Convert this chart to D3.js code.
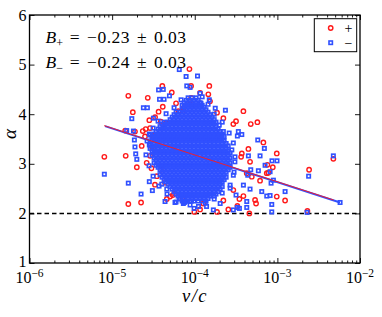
<!DOCTYPE html>
<html><head><meta charset="utf-8">
<script src="https://cdn.jsdelivr.net/npm/d3@7"></script>
<style>body{margin:0;background:#fff}svg{display:block}text{font-family:"Liberation Serif","Times New Roman",serif}</style>
</head><body><svg id="c" width="382" height="317" font-family="Liberation Serif, serif"></svg>
<script>
// ---- data ----
const xDomain = [1e-6, 1e-2];
const yDomain = [1, 6];
const xTickExps = [-6, -5, -4, -3, -2];
const yTicks = [1, 2, 3, 4, 5, 6];
const refAlpha = 2;
const seriesLabels = ["+", "\u2212"];
const fitTexts = ["\u22120.23 \u00b1 0.03", "\u22120.24 \u00b1 0.03"];
const plusFitV = [8.0e-6, 4.8e-3];
const plusFitAlpha = [3.77, 2.27];
const minusFitV = [8.2e-6, 5.74e-3];
const minusFitAlpha = [3.76, 2.22];

const plusV = [8.62e-5,4.05e-5,1.57e-5,2.70e-5,5.27e-5,1.50e-4,3.88e-4,4.10e-5,1.78e-5,3.65e-5,1.44e-5,2.35e-5,2.88e-5,3.31e-5,3.88e-5,4.54e-5,5.73e-4,4.76e-4,3.16e-4,2.93e-4,2.22e-4,1.86e-4,1.46e-4,9.03e-5,9.07e-5,8.05e-6,1.46e-5,1.99e-5,2.28e-5,2.88e-5,1.57e-5,2.24e-5,2.99e-5,3.48e-5,3.88e-5,4.37e-5,5.03e-5,5.77e-5,2.50e-5,3.16e-5,1.89e-5,2.55e-5,4.76e-3,2.42e-3,2.31e-3,1.24e-3,9.83e-4,8.80e-4,4.58e-4,5.37e-4,7.44e-4,4.46e-4,3.71e-4,3.28e-4,2.55e-4,1.16e-4,9.90e-5,7.09e-5,5.42e-5,4.59e-5,6.77e-4,7.57e-4,7.78e-4,6.17e-4,4.90e-4,4.26e-4,3.64e-4,4.67e-4,3.88e-4,5.52e-4,3.47e-4,2.22e-4,1.86e-4,1.27e-4,8.01e-5,2.93e-4,9.83e-4,7.23e-5,5.94e-5,1.16e-4,8.78e-5,1.16e-4,1.53e-4,6.35e-5,7.28e-5,2.82e-5,3.04e-5,2.62e-5,3.30e-5];
const plusAlpha = [4.91,4.57,4.37,4.33,4.44,4.57,4.06,4.15,4.04,4.05,3.67,3.66,3.72,3.94,3.85,3.82,3.84,3.80,3.86,3.80,3.92,4.03,4.40,4.57,4.33,3.14,3.16,2.93,3.36,3.16,2.19,2.22,2.91,2.75,2.88,2.62,2.34,2.40,3.55,3.56,3.65,3.70,3.10,2.88,2.05,2.26,3.21,2.93,2.00,2.27,2.81,3.30,3.21,2.15,2.08,2.08,2.03,2.29,2.37,2.29,3.43,2.98,2.82,2.66,2.74,2.81,3.14,3.04,2.35,2.20,2.29,2.26,2.03,2.20,2.37,2.47,2.34,4.06,4.22,4.22,4.21,4.43,4.26,4.06,4.12,3.88,3.34,3.02,2.58];

const minusV = [6.50e-5,7.86e-5,1.08e-4,3.65e-5,4.16e-5,3.75e-5,4.25e-5,4.94e-5,8.01e-5,8.78e-5,1.16e-4,1.50e-4,2.35e-4,2.39e-5,2.67e-5,1.77e-4,1.73e-5,3.16e-5,1.50e-5,1.81e-5,3.80e-5,2.82e-5,4.16e-5,1.19e-4,1.98e-4,2.22e-4,3.37e-4,5.79e-4,8.05e-6,1.57e-5,2.24e-5,3.07e-5,2.82e-5,1.86e-5,1.99e-5,1.93e-5,3.22e-5,2.82e-5,3.99e-5,4.59e-5,5.77e-5,6.50e-5,7.49e-5,1.89e-5,4.76e-3,2.39e-3,2.29e-3,1.24e-3,8.60e-4,9.90e-4,7.10e-4,8.55e-4,8.55e-4,8.39e-4,7.44e-4,6.96e-4,4.38e-4,4.26e-4,3.28e-4,1.68e-4,9.82e-5,7.28e-5,4.37e-5,4.46e-4,6.17e-4,5.89e-4,4.76e-4,8.16e-4,8.95e-4,6.47e-4,8.16e-4,4.67e-4,3.88e-4,4.26e-4,3.47e-4,2.93e-4,1.39e-4,1.11e-4,7.64e-5,9.15e-5,2.03e-4,3.71e-4,3.28e-4,5.74e-3,2.81e-4,3.06e-4,2.93e-4,2.68e-4,3.16e-4,
 2.65e-5,2.57e-5,2.80e-5,3.13e-5,3.70e-5,4.62e-5,5.94e-5,8.78e-5,1.34e-4,1.72e-4,2.15e-4,2.68e-4,2.99e-4,3.07e-4,2.93e-4,2.61e-4,2.15e-4,1.72e-4,1.45e-4,1.23e-4,6.83e-5,5.62e-5,4.50e-5,3.60e-5,3.13e-5,2.88e-5];
const minusAlpha = [4.90,4.76,4.77,4.49,4.50,4.30,4.30,4.37,4.57,4.54,4.42,4.29,4.08,4.13,4.13,4.12,3.91,3.92,3.67,3.66,3.65,3.60,3.72,4.22,3.78,3.65,3.65,3.48,2.79,2.61,2.39,2.46,2.64,3.48,3.09,3.20,3.23,3.38,2.59,2.49,2.22,2.29,2.22,3.34,3.16,2.75,2.02,2.44,3.06,3.06,2.97,2.18,2.03,2.61,2.35,3.31,2.77,2.12,2.12,2.07,2.10,2.20,2.24,3.16,3.16,2.86,2.88,2.84,2.67,2.44,2.36,2.49,2.57,2.24,2.10,2.07,2.14,2.14,2.24,2.25,2.20,3.59,3.56,2.22,3.28,3.04,2.77,2.51,2.37,
 3.46,3.18,2.96,2.75,2.55,2.39,2.23,2.17,2.21,2.29,2.41,2.57,2.83,3.14,3.42,3.62,3.84,4.00,4.20,4.35,4.29,4.13,4.01,3.86,3.72,3.58];

// dense core of the "−" cloud, one row of v values per alpha level
const minusCoreAlpha = [4.33,4.28,4.23,4.18,4.14,4.09,4.04,3.99,3.94,3.89,3.84,3.80,3.75,3.70,3.65,3.60,3.55,3.51,3.46,3.41,3.36,3.31,3.26,3.22,3.17,3.12,3.07,3.02,2.97,2.93,2.88,2.83,2.78,2.73,2.68,2.64,2.59,2.54,2.49,2.44,2.39,2.35,2.30,2.25];
const minusCoreV = [
 [8.31e-5,9.29e-5,1.04e-4],
 [7.86e-5,8.78e-5,9.82e-5,1.10e-4],
 [7.43e-5,8.31e-5,9.29e-5,1.04e-4,1.16e-4],
 [7.03e-5,7.86e-5,8.78e-5,9.82e-5,1.10e-4,1.23e-4],
 [7.43e-5,8.31e-5,9.29e-5,1.04e-4,1.16e-4,1.30e-4],
 [7.03e-5,7.86e-5,8.78e-5,9.82e-5,1.10e-4,1.23e-4,1.37e-4],
 [5.94e-5,6.64e-5,7.43e-5,8.31e-5,9.29e-5,1.04e-4,1.16e-4,1.30e-4,1.45e-4],
 [5.62e-5,6.28e-5,7.03e-5,7.86e-5,8.78e-5,9.82e-5,1.10e-4,1.23e-4,1.37e-4,1.53e-4],
 [5.32e-5,5.94e-5,6.64e-5,7.43e-5,8.31e-5,9.29e-5,1.04e-4,1.16e-4,1.30e-4,1.45e-4,1.62e-4],
 [5.03e-5,5.62e-5,6.28e-5,7.03e-5,7.86e-5,8.78e-5,9.82e-5,1.10e-4,1.23e-4,1.37e-4,1.53e-4,1.72e-4],
 [4.25e-5,4.75e-5,5.32e-5,5.94e-5,6.64e-5,7.43e-5,8.31e-5,9.29e-5,1.04e-4,1.16e-4,1.30e-4,1.45e-4,1.62e-4,1.81e-4],
 [4.02e-5,4.50e-5,5.03e-5,5.62e-5,6.28e-5,7.03e-5,7.86e-5,8.78e-5,9.82e-5,1.10e-4,1.23e-4,1.37e-4,1.53e-4,1.72e-4],
 [3.80e-5,4.25e-5,4.75e-5,5.32e-5,5.94e-5,6.64e-5,7.43e-5,8.31e-5,9.29e-5,1.04e-4,1.16e-4,1.30e-4,1.45e-4,1.62e-4,1.81e-4],
 [3.60e-5,4.02e-5,4.50e-5,5.03e-5,5.62e-5,6.28e-5,7.03e-5,7.86e-5,8.78e-5,9.82e-5,1.10e-4,1.23e-4,1.37e-4,1.53e-4,1.72e-4,1.92e-4],
 [3.40e-5,3.80e-5,4.25e-5,4.75e-5,5.32e-5,5.94e-5,6.64e-5,7.43e-5,8.31e-5,9.29e-5,1.04e-4,1.16e-4,1.30e-4,1.45e-4,1.62e-4,1.81e-4,2.03e-4],
 [3.22e-5,3.60e-5,4.02e-5,4.50e-5,5.03e-5,5.62e-5,6.28e-5,7.03e-5,7.86e-5,8.78e-5,9.82e-5,1.10e-4,1.23e-4,1.37e-4,1.53e-4,1.72e-4,1.92e-4,2.15e-4],
 [3.04e-5,3.40e-5,3.80e-5,4.25e-5,4.75e-5,5.32e-5,5.94e-5,6.64e-5,7.43e-5,8.31e-5,9.29e-5,1.04e-4,1.16e-4,1.30e-4,1.45e-4,1.62e-4,1.81e-4,2.03e-4,2.27e-4],
 [3.22e-5,3.60e-5,4.02e-5,4.50e-5,5.03e-5,5.62e-5,6.28e-5,7.03e-5,7.86e-5,8.78e-5,9.82e-5,1.10e-4,1.23e-4,1.37e-4,1.53e-4,1.72e-4,1.92e-4,2.15e-4],
 [3.04e-5,3.40e-5,3.80e-5,4.25e-5,4.75e-5,5.32e-5,5.94e-5,6.64e-5,7.43e-5,8.31e-5,9.29e-5,1.04e-4,1.16e-4,1.30e-4,1.45e-4,1.62e-4,1.81e-4,2.03e-4,2.27e-4],
 [2.88e-5,3.22e-5,3.60e-5,4.02e-5,4.50e-5,5.03e-5,5.62e-5,6.28e-5,7.03e-5,7.86e-5,8.78e-5,9.82e-5,1.10e-4,1.23e-4,1.37e-4,1.53e-4,1.72e-4,1.92e-4,2.15e-4,2.40e-4],
 [3.04e-5,3.40e-5,3.80e-5,4.25e-5,4.75e-5,5.32e-5,5.94e-5,6.64e-5,7.43e-5,8.31e-5,9.29e-5,1.04e-4,1.16e-4,1.30e-4,1.45e-4,1.62e-4,1.81e-4,2.03e-4,2.27e-4,2.54e-4],
 [2.88e-5,3.22e-5,3.60e-5,4.02e-5,4.50e-5,5.03e-5,5.62e-5,6.28e-5,7.03e-5,7.86e-5,8.78e-5,9.82e-5,1.10e-4,1.23e-4,1.37e-4,1.53e-4,1.72e-4,1.92e-4,2.15e-4,2.40e-4],
 [3.04e-5,3.40e-5,3.80e-5,4.25e-5,4.75e-5,5.32e-5,5.94e-5,6.64e-5,7.43e-5,8.31e-5,9.29e-5,1.04e-4,1.16e-4,1.30e-4,1.45e-4,1.62e-4,1.81e-4,2.03e-4,2.27e-4,2.54e-4],
 [3.22e-5,3.60e-5,4.02e-5,4.50e-5,5.03e-5,5.62e-5,6.28e-5,7.03e-5,7.86e-5,8.78e-5,9.82e-5,1.10e-4,1.23e-4,1.37e-4,1.53e-4,1.72e-4,1.92e-4,2.15e-4,2.40e-4,2.68e-4],
 [3.04e-5,3.40e-5,3.80e-5,4.25e-5,4.75e-5,5.32e-5,5.94e-5,6.64e-5,7.43e-5,8.31e-5,9.29e-5,1.04e-4,1.16e-4,1.30e-4,1.45e-4,1.62e-4,1.81e-4,2.03e-4,2.27e-4,2.54e-4],
 [3.22e-5,3.60e-5,4.02e-5,4.50e-5,5.03e-5,5.62e-5,6.28e-5,7.03e-5,7.86e-5,8.78e-5,9.82e-5,1.10e-4,1.23e-4,1.37e-4,1.53e-4,1.72e-4,1.92e-4,2.15e-4,2.40e-4,2.68e-4],
 [3.40e-5,3.80e-5,4.25e-5,4.75e-5,5.32e-5,5.94e-5,6.64e-5,7.43e-5,8.31e-5,9.29e-5,1.04e-4,1.16e-4,1.30e-4,1.45e-4,1.62e-4,1.81e-4,2.03e-4,2.27e-4,2.54e-4],
 [3.22e-5,3.60e-5,4.02e-5,4.50e-5,5.03e-5,5.62e-5,6.28e-5,7.03e-5,7.86e-5,8.78e-5,9.82e-5,1.10e-4,1.23e-4,1.37e-4,1.53e-4,1.72e-4,1.92e-4,2.15e-4,2.40e-4,2.68e-4],
 [3.40e-5,3.80e-5,4.25e-5,4.75e-5,5.32e-5,5.94e-5,6.64e-5,7.43e-5,8.31e-5,9.29e-5,1.04e-4,1.16e-4,1.30e-4,1.45e-4,1.62e-4,1.81e-4,2.03e-4,2.27e-4,2.54e-4],
 [3.60e-5,4.02e-5,4.50e-5,5.03e-5,5.62e-5,6.28e-5,7.03e-5,7.86e-5,8.78e-5,9.82e-5,1.10e-4,1.23e-4,1.37e-4,1.53e-4,1.72e-4,1.92e-4,2.15e-4,2.40e-4,2.68e-4],
 [3.80e-5,4.25e-5,4.75e-5,5.32e-5,5.94e-5,6.64e-5,7.43e-5,8.31e-5,9.29e-5,1.04e-4,1.16e-4,1.30e-4,1.45e-4,1.62e-4,1.81e-4,2.03e-4,2.27e-4,2.54e-4],
 [4.02e-5,4.50e-5,5.03e-5,5.62e-5,6.28e-5,7.03e-5,7.86e-5,8.78e-5,9.82e-5,1.10e-4,1.23e-4,1.37e-4,1.53e-4,1.72e-4,1.92e-4,2.15e-4,2.40e-4],
 [3.80e-5,4.25e-5,4.75e-5,5.32e-5,5.94e-5,6.64e-5,7.43e-5,8.31e-5,9.29e-5,1.04e-4,1.16e-4,1.30e-4,1.45e-4,1.62e-4,1.81e-4,2.03e-4,2.27e-4],
 [4.02e-5,4.50e-5,5.03e-5,5.62e-5,6.28e-5,7.03e-5,7.86e-5,8.78e-5,9.82e-5,1.10e-4,1.23e-4,1.37e-4,1.53e-4,1.72e-4,1.92e-4,2.15e-4,2.40e-4],
 [4.25e-5,4.75e-5,5.32e-5,5.94e-5,6.64e-5,7.43e-5,8.31e-5,9.29e-5,1.04e-4,1.16e-4,1.30e-4,1.45e-4,1.62e-4,1.81e-4,2.03e-4,2.27e-4],
 [4.50e-5,5.03e-5,5.62e-5,6.28e-5,7.03e-5,7.86e-5,8.78e-5,9.82e-5,1.10e-4,1.23e-4,1.37e-4,1.53e-4,1.72e-4,1.92e-4,2.15e-4],
 [4.75e-5,5.32e-5,5.94e-5,6.64e-5,7.43e-5,8.31e-5,9.29e-5,1.04e-4,1.16e-4,1.30e-4,1.45e-4,1.62e-4,1.81e-4,2.03e-4],
 [5.03e-5,5.62e-5,6.28e-5,7.03e-5,7.86e-5,8.78e-5,9.82e-5,1.10e-4,1.23e-4,1.37e-4,1.53e-4,1.72e-4,1.92e-4,2.15e-4],
 [5.32e-5,5.94e-5,6.64e-5,7.43e-5,8.31e-5,9.29e-5,1.04e-4,1.16e-4,1.30e-4,1.45e-4,1.62e-4,1.81e-4,2.03e-4],
 [5.62e-5,6.28e-5,7.03e-5,7.86e-5,8.78e-5,9.82e-5,1.10e-4,1.23e-4,1.37e-4,1.53e-4,1.72e-4,1.92e-4],
 [5.94e-5,6.64e-5,7.43e-5,8.31e-5,9.29e-5,1.04e-4,1.16e-4,1.30e-4,1.45e-4,1.62e-4,1.81e-4],
 [6.28e-5,7.03e-5,7.86e-5,8.78e-5,9.82e-5,1.10e-4,1.23e-4,1.37e-4,1.53e-4,1.72e-4],
 [6.64e-5,7.43e-5,8.31e-5,9.29e-5,1.04e-4,1.16e-4,1.30e-4,1.45e-4],
 [7.03e-5,7.86e-5,8.78e-5,9.82e-5,1.10e-4,1.23e-4,1.37e-4]
];

// ---- chart ----
const red = "#ff1a1a", blue = "#3050ff";
const L = 29.5, R = 360, T = 15, B = 263;
const x = d3.scaleLog().domain(xDomain).range([L, R]);
const y = d3.scaleLinear().domain(yDomain).range([B, T]);
const svg = d3.select("#c");

const plusPts = plusV.map((v, i) => ({v, a: plusAlpha[i]}));
const minusPts = minusV.map((v, i) => ({v, a: minusAlpha[i]}));
minusCoreV.forEach((row, i) => row.forEach(v => minusPts.push({v, a: minusCoreAlpha[i]})));

// dashed reference line
svg.append("line").attr("x1", L).attr("x2", R).attr("y1", y(refAlpha)).attr("y2", y(refAlpha))
  .attr("stroke", "#000").attr("stroke-width", 1.5).attr("stroke-dasharray", "4.5,3");

// points
svg.append("g").selectAll("circle").data(plusPts).join("circle")
  .attr("cx", d => x(d.v)).attr("cy", d => y(d.a)).attr("r", 2.2)
  .attr("fill", "none").attr("stroke", red).attr("stroke-width", 1.4);
const s = 3.4;
svg.append("g").selectAll("rect").data(minusPts).join("rect")
  .attr("x", d => x(d.v) - s / 2).attr("y", d => y(d.a) - s / 2).attr("width", s).attr("height", s)
  .attr("fill", "none").attr("stroke", blue).attr("stroke-width", 1.6);

// fit lines
const line = d3.line().x(d => x(d[0])).y(d => y(d[1]));
svg.append("path").attr("d", line(minusFitV.map((v, i) => [v, minusFitAlpha[i]])))
  .attr("stroke", blue).attr("stroke-width", 2).attr("fill", "none");
svg.append("path").attr("d", line(plusFitV.map((v, i) => [v, plusFitAlpha[i]])))
  .attr("stroke", red).attr("stroke-width", 0.9).attr("fill", "none");

// axes (inward ticks)
const majors = xTickExps.map(e => Math.pow(10, e));
const minors = [];
xTickExps.slice(0, -1).forEach(e => { for (let k = 2; k <= 9; k++) minors.push(k * Math.pow(10, e)); });
function styleAxis(g) { g.select(".domain").remove(); g.selectAll("line").attr("stroke", "#000").attr("stroke-width", 0.9); g.selectAll("text").remove(); }
svg.append("g").attr("transform", `translate(0,${B})`).call(d3.axisBottom(x).tickValues(majors).tickSize(-5).tickFormat("")).call(styleAxis);
svg.append("g").attr("transform", `translate(0,${B})`).call(d3.axisBottom(x).tickValues(minors).tickSize(-2.5).tickFormat("")).call(styleAxis);
svg.append("g").attr("transform", `translate(0,${T})`).call(d3.axisTop(x).tickValues(majors).tickSize(-5).tickFormat("")).call(styleAxis);
svg.append("g").attr("transform", `translate(0,${T})`).call(d3.axisTop(x).tickValues(minors).tickSize(-2.5).tickFormat("")).call(styleAxis);
svg.append("g").attr("transform", `translate(${L},0)`).call(d3.axisLeft(y).tickValues(yTicks).tickSize(-5).tickFormat("")).call(styleAxis);
svg.append("g").attr("transform", `translate(${R},0)`).call(d3.axisRight(y).tickValues(yTicks).tickSize(-5).tickFormat("")).call(styleAxis);
svg.append("rect").attr("x", L).attr("y", T).attr("width", R - L).attr("height", B - T)
  .attr("fill", "none").attr("stroke", "#000").attr("stroke-width", 1.3);

// tick labels
yTicks.forEach(t => {
  svg.append("text").attr("x", 26.5).attr("y", y(t) - (t === 1 ? 1.5 : 0)).attr("dy", "0.35em").attr("text-anchor", "end")
    .attr("font-size", 16).text(t);
});
xTickExps.forEach(e => {
  const t = svg.append("text").attr("x", x(Math.pow(10, e))).attr("y", 283).attr("text-anchor", "middle").attr("font-size", 16);
  t.append("tspan").text("10");
  t.append("tspan").attr("dy", -6.5).attr("font-size", 11.5).text("\u2212" + Math.abs(e));
});
// axis titles
svg.append("text").attr("x", 195).attr("y", 302).attr("text-anchor", "middle").attr("font-size", 18.5)
  .attr("font-style", "italic").attr("letter-spacing", 1.5).text("v/c");
svg.append("text").attr("transform", "translate(15.5,134) rotate(-90)").attr("text-anchor", "middle")
  .attr("font-size", 19).attr("font-style", "italic").text("\u03b1");

// fit annotations
[[43.3, 0], [68.3, 1]].forEach(([yy, i]) => {
  const t = svg.append("text").attr("x", 45.5).attr("y", yy).attr("font-size", 17.5);
  t.append("tspan").attr("font-style", "italic").text("B");
  t.append("tspan").attr("dy", 3.5).attr("font-size", 12).text(seriesLabels[i]);
  t.append("tspan").attr("dy", -3.5).attr("letter-spacing", 0.5).attr("word-spacing", 2).text(" = " + fitTexts[i]);
});

// legend
svg.append("rect").attr("x", 314.3).attr("y", 18.7).attr("width", 42.4).attr("height", 33)
  .attr("fill", "#fff").attr("stroke", "#000").attr("stroke-width", 1);
svg.append("circle").attr("cx", 330.7).attr("cy", 28).attr("r", 2.2).attr("fill", "none").attr("stroke", red).attr("stroke-width", 1.4);
svg.append("rect").attr("x", 330.7 - s / 2).attr("y", 42.7 - s / 2).attr("width", s).attr("height", s)
  .attr("fill", "none").attr("stroke", blue).attr("stroke-width", 1.6);
svg.append("text").attr("x", 348.5).attr("y", 28.5).attr("dy", "0.35em").attr("text-anchor", "middle").attr("font-size", 14).text(seriesLabels[0]);
svg.append("text").attr("x", 348.5).attr("y", 43).attr("dy", "0.35em").attr("text-anchor", "middle").attr("font-size", 14).text(seriesLabels[1]);
</script></body></html>
